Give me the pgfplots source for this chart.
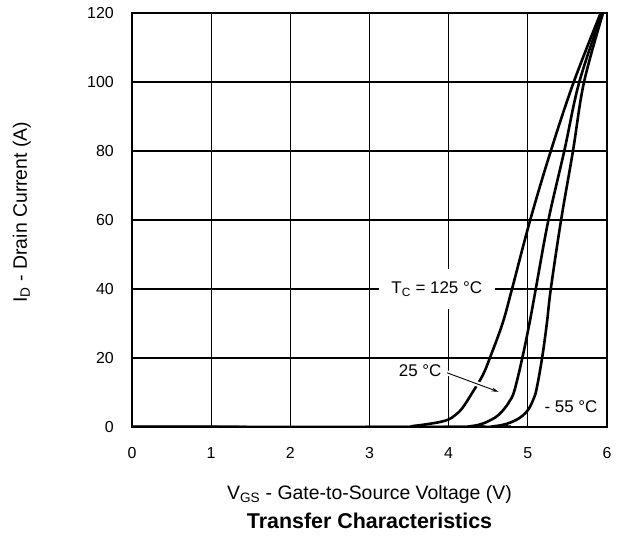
\documentclass[border=0pt]{standalone}
\usepackage{fontspec}
\setmainfont{Liberation Sans}
\usepackage{pgfplots}
\pgfplotsset{compat=1.18}
\usetikzlibrary{arrows.meta}

\newcommand{\tickfont}{\fontsize{16}{18}\selectfont}
\newcommand{\lblfont}{\fontsize{19.5}{22}\selectfont}
\newcommand{\notefont}{\fontsize{17}{20}\selectfont}

\begin{document}
\begin{tikzpicture}[x=1bp,y=1bp]
  \path[use as bounding box] (0,0) rectangle (622,540);
  \begin{axis}[
      at={(132bp,113bp)}, anchor=south west,
      scale only axis, width=475bp, height=414bp,
      xmin=0, xmax=6, ymin=0, ymax=120,
      xtick distance=1, ytick distance=20,
      grid=major,
      grid style={black, line width=1.1bp},
      axis line style={black, line width=1.3bp},
      major tick length=0pt,
      /pgf/number format/assume math mode=true,
      ticklabel style={font=\tickfont},
      xticklabel style={anchor=center, yshift=-26bp},
      yticklabel style={anchor=east, inner sep=0pt, xshift=-18bp},
      xlabel={V\textsubscript{GS} - Gate-to-Source Voltage (V)},
      ylabel={I\textsubscript{D} - Drain Current (A)},
      label style={font=\lblfont},
      xlabel style={at={(axis description cs:0.5,-0.176)}, anchor=base},
      ylabel style={at={(axis description cs:-0.232,0.519)}, anchor=center},
      title={Transfer Characteristics},
      title style={at={(axis description cs:0.5,-0.26)}, anchor=base,
        font=\bfseries\fontsize{21.5}{24}\selectfont},
    ]
    % T_C = 125 C
    \addplot[black, line width=2.6bp, smooth, tension=0.6] coordinates {
      (0,0) (3.3,0) (3.55,0.3) (3.75,0.9) (3.9,1.5) (4.0,2.2) (4.08,3.4)
      (4.17,5.4) (4.30,10) (4.43,15) (4.52,20) (4.68,30) (4.80,40) (5.03,60)
      (5.29,80) (5.58,100) (5.92,120)};
    % 25 C
    \addplot[black, line width=2.6bp, smooth, tension=0.6] coordinates {
      (0,0) (4.1,0) (4.3,0.3) (4.42,0.9) (4.53,2) (4.62,3.3) (4.70,5.2)
      (4.77,7.5) (4.83,10.5) (4.93,20) (5.02,30) (5.10,40) (5.26,60)
      (5.46,80) (5.65,100) (5.94,120)};
    % -55 C
    \addplot[black, line width=2.6bp, smooth, tension=0.6] coordinates {
      (0,0) (4.4,0) (4.6,0.3) (4.73,0.9) (4.85,2) (4.94,3.4) (5.01,5.2)
      (5.07,8) (5.11,11) (5.18,20) (5.24,30) (5.29,40) (5.42,60) (5.57,80)
      (5.71,100) (5.95,120)};

    \node[fill=white, inner sep=0pt, minimum width=116bp, minimum height=40bp,
      font=\notefont] at (axis cs:3.85,40) {T\textsubscript{C} = 125 °C};
    \draw[-{Stealth[length=7bp,width=4bp]}, line width=0.9bp,
      preaction={draw, white, line width=5bp, -}]
      (axis cs:3.98,15.7) -- (axis cs:4.63,10.2);
    \node[fill=white, inner sep=1.5bp, font=\notefont] at (axis cs:3.64,16.2) {25 °C};
    \node[fill=white, inner sep=1bp, font=\notefont] at (axis cs:5.545,5.9) {- 55 °C};
  \end{axis}
\end{tikzpicture}
\end{document}
